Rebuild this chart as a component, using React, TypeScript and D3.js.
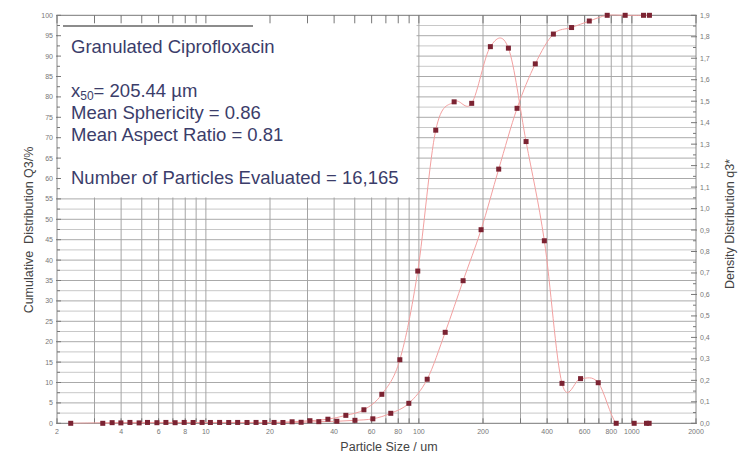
import React from "react";
import * as d3 from "d3";

// ---- data ----
const cumSize = [3.28, 3.99, 4.86, 5.89, 7.17, 8.71, 10.5, 12.8, 15.6, 18.9, 23.0, 28.0, 33.9, 41.2, 50.1, 60.8, 73.8, 89.7, 109.4, 132.9, 161.3, 195.9, 237, 289, 352, 428, 521, 631, 766, 930, 1134, 1209];
const cumQ3 = [0, 0.1, 0.1, 0.15, 0.15, 0.2, 0.2, 0.2, 0.2, 0.2, 0.2, 0.25, 0.4, 0.5, 0.73, 1.1, 2.45, 4.9, 10.8, 22.3, 34.95, 47.45, 62.3, 77.2, 88.1, 95.4, 97.0, 98.6, 100, 100, 100, 100];

const densSize = [2.32, 3.63, 4.4, 5.32, 6.49, 7.91, 9.6, 11.6, 14.1, 17.2, 20.9, 25.4, 30.8, 37.4, 45.4, 55.2, 67.0, 81.4, 98.8, 120.0, 146.4, 177.0, 216.6, 263.2, 318.6, 388.2, 469.8, 574.2, 695, 844, 1025, 1171, 1205];
const densQ3 = [0, 0.003, 0.004, 0.004, 0.004, 0.004, 0.004, 0.004, 0.004, 0.004, 0.004, 0.007, 0.012, 0.019, 0.037, 0.063, 0.135, 0.296, 0.709, 1.365, 1.497, 1.49, 1.754, 1.747, 1.312, 0.85, 0.186, 0.208, 0.189, 0, 0, 0, 0];

const xLabelTicks = [2, 4, 6, 8, 10, 20, 40, 60, 80, 100, 200, 400, 600, 800, 1000, 2000];
const xMinorTicks = [2, 3, 4, 5, 6, 7, 8, 9, 10, 20, 30, 40, 50, 60, 70, 80, 90, 100, 200, 300, 400, 500, 600, 700, 800, 900, 1000, 2000];
const xGridTicks = [3, 4, 5, 6, 7, 8, 9, 10, 20, 30, 40, 50, 60, 70, 80, 90, 100, 200, 300, 400, 500, 600, 700, 800, 900, 1000];
const leftLabelTicks = [0, 5, 10, 15, 20, 25, 30, 35, 40, 45, 50, 55, 60, 65, 70, 75, 80, 85, 90, 95, 100];
const leftMinorTicks = [2.5, 7.5, 12.5, 17.5, 22.5, 27.5, 32.5, 37.5, 42.5, 47.5, 52.5, 57.5, 62.5, 67.5, 72.5, 77.5, 82.5, 87.5, 92.5, 97.5];
const rightLabelTicks = [0, 0.1, 0.2, 0.3, 0.4, 0.5, 0.6, 0.7, 0.8, 0.9, 1.0, 1.1, 1.2, 1.3, 1.4, 1.5, 1.6, 1.7, 1.8, 1.9];
const rightMinorTicks = [0.05, 0.15, 0.25, 0.35, 0.45, 0.55, 0.65, 0.75, 0.85, 0.95, 1.05, 1.15, 1.25, 1.35, 1.45, 1.55, 1.65, 1.75, 1.85];

const infoLines = ["Mean Sphericity = 0.86", "Mean Aspect Ratio = 0.81"];

export default function App() {
  const W = 741, H = 456;
  const L = 57, R = 696, T = 15.3, B = 423.3;
  const x = d3.scaleLog().domain([2, 2000]).range([L, R]);
  const yL = d3.scaleLinear().domain([0, 100]).range([B, T]);
  const yR = d3.scaleLinear().domain([0, 1.9]).range([B, T]);

  const cumPts: [number, number][] = cumSize.map((s, i) => [x(s), yL(cumQ3[i])]);
  const denPts: [number, number][] = densSize.map((s, i) => [x(s), yR(densQ3[i])]);
  const line = d3.line().curve(d3.curveCatmullRom.alpha(0));

  const boxR = 416.5, boxB = 197.5;
  const font = "'Liberation Sans', Arial, Helvetica, sans-serif";
  const tickFs = 7;
  const tickCol = "#777";
  const textCol = "#3b3d6a";
  const fmtR = (v: number) => v.toFixed(1).replace(".", ",");

  return (
    <svg width={W} height={H} style={{ position: "absolute", left: 0, top: 0, background: "#fff" }} fontFamily={font}>
      <defs>
        <clipPath id="plotclip">
          <rect x={L} y={T - 1} width={R - L} height={B - T + 1.5} />
        </clipPath>
      </defs>
      <rect x={0} y={0} width={W} height={H} fill="#fff" />

      {/* horizontal gridlines */}
      {leftMinorTicks.map((v) => (
        <line key={"hm" + v} x1={L} x2={R} y1={yL(v)} y2={yL(v)} stroke="#c8c8c8" strokeWidth={1} />
      ))}
      {leftLabelTicks.filter((v) => v > 0 && v < 100).map((v) => (
        <line key={"hM" + v} x1={L} x2={R} y1={yL(v)} y2={yL(v)} stroke="#aaa" strokeWidth={1} />
      ))}
      {/* vertical gridlines */}
      {xGridTicks.map((v) => (
        <line key={"vg" + v} x1={x(v)} x2={x(v)} y1={T} y2={B} stroke="#a4a4a4" strokeWidth={1} />
      ))}

      {/* white info box */}
      <rect x={L + 1} y={T + 1} width={boxR - L - 1} height={boxB - T - 1} fill="#fff" />
      <line x1={63} x2={253} y1={26} y2={26} stroke="#666" strokeWidth={1.5} />

      {/* frame */}
      <line x1={L} x2={R} y1={T} y2={T} stroke="#777" strokeWidth={1} />
      <line x1={L} x2={R} y1={B} y2={B} stroke="#777" strokeWidth={1} />
      <line x1={L} x2={L} y1={T} y2={B} stroke="#888" strokeWidth={1} />
      <line x1={R} x2={R} y1={T} y2={B} stroke="#888" strokeWidth={1} />

      {/* top ticks */}
      {xMinorTicks.map((v) => (
        <line key={"tt" + v} x1={x(v)} x2={x(v)} y1={T} y2={T + 8} stroke="#777" strokeWidth={1} />
      ))}
      {/* bottom ticks + labels */}
      {xMinorTicks.map((v) => (
        <line key={"bt" + v} x1={x(v)} x2={x(v)} y1={B} y2={B - 5} stroke="#777" strokeWidth={1} />
      ))}
      {xLabelTicks.map((v) => (
        <text key={"bl" + v} x={x(v)} y={B + 10.5} fontSize={tickFs} fill={tickCol} textAnchor="middle">{v}</text>
      ))}

      {/* left ticks + labels */}
      {leftLabelTicks.map((v) => (
        <line key={"lt" + v} x1={L - 1} x2={L + 4} y1={yL(v)} y2={yL(v)} stroke="#777" strokeWidth={1} />
      ))}
      {leftMinorTicks.map((v) => (
        <line key={"lm" + v} x1={L} x2={L + 3} y1={yL(v)} y2={yL(v)} stroke="#777" strokeWidth={1} />
      ))}
      {leftLabelTicks.map((v) => (
        <text key={"ll" + v} x={53} y={yL(v) + 2.5} fontSize={tickFs} fill={tickCol} textAnchor="end">{v}</text>
      ))}

      {/* right ticks + labels */}
      {rightLabelTicks.map((v) => (
        <line key={"rt" + v} x1={R - 5} x2={R + 1} y1={yR(v)} y2={yR(v)} stroke="#777" strokeWidth={1} />
      ))}
      {rightMinorTicks.map((v) => (
        <line key={"rm" + v} x1={R - 3} x2={R} y1={yR(v)} y2={yR(v)} stroke="#777" strokeWidth={1} />
      ))}
      {rightLabelTicks.map((v) => (
        <text key={"rl" + v} x={700} y={yR(v) + 2.5} fontSize={tickFs} fill={tickCol} textAnchor="start">{fmtR(v)}</text>
      ))}

      {/* curves */}
      <g clipPath="url(#plotclip)">
        <path d={line(cumPts) || ""} fill="none" stroke="#f2a0a0" strokeWidth={1} />
        <path d={line(denPts) || ""} fill="none" stroke="#f2a0a0" strokeWidth={1} />
      </g>
      {/* markers */}
      {cumPts.map((p, i) => (
        <rect key={"cm" + i} x={p[0] - 2.5} y={p[1] - 2.5} width={5} height={5} fill="#7b2332" />
      ))}
      {denPts.map((p, i) => (
        <rect key={"dm" + i} x={p[0] - 2.5} y={p[1] - 2.5} width={5} height={5} fill="#7b2332" />
      ))}

      {/* info text */}
      <text x={71} y={53} fontSize={18.5} fill={textCol}>Granulated Ciprofloxacin</text>
      <text x={71} y={97} fontSize={18.5} fill={textCol}>
        x<tspan fontSize={12} dy={3}>50</tspan><tspan dy={-3}>= 205.44 µm</tspan>
      </text>
      {infoLines.map((t, i) => (
        <text key={t} x={71} y={119 + i * 21.5} fontSize={18.5} fill={textCol}>{t}</text>
      ))}
      <text x={71} y={184} fontSize={18.5} fill={textCol}>Number of Particles Evaluated = 16,165</text>

      {/* axis titles */}
      <text transform={`translate(33,230) rotate(-90)`} fontSize={12.5} fill="#444" textAnchor="middle" style={{ whiteSpace: "pre" }}>Cumulative  Distribution Q3/%</text>
      <text transform={`translate(734,224) rotate(-90)`} fontSize={12.5} fill="#444" textAnchor="middle">Density Distribution q3*</text>
      <text x={389} y={451} fontSize={12.5} fill="#444" textAnchor="middle">Particle Size / um</text>
    </svg>
  );
}
